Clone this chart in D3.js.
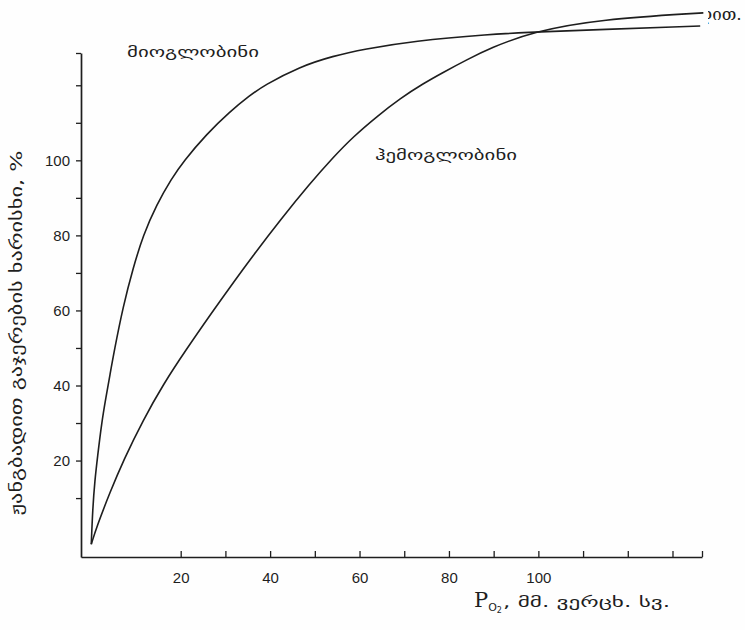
<!DOCTYPE html>
<html><head><meta charset="utf-8">
<script src="https://cdn.jsdelivr.net/npm/d3@7"></script>
<style>body{margin:0;background:#fff}svg{display:block}</style>
</head><body>
<svg id="c" width="745" height="630"></svg>
<script>
// ---- data ----
const myoPressure = [0, 0.3, 0.8, 1.4, 2.3, 3.3, 4.2, 5.1, 7.1, 9.4, 11.6, 14.6, 18.0, 20.6, 25.8, 31.0, 35.5, 38.5, 46.7, 54.1, 60.9, 72.0, 89.2, 98.8, 136.2];
const myoSaturation = [-2.3, 6.8, 14.8, 21.0, 29.9, 37.0, 43.0, 49.0, 61.0, 71.5, 80.0, 88.2, 95.2, 99.7, 107.0, 113.0, 117.3, 119.9, 125.0, 127.8, 129.6, 131.8, 133.6, 134.2, 135.8];
const hemoPressure = [0, 1.2, 4.2, 7.2, 11.6, 16.1, 21.0, 27.3, 31.8, 36.3, 42.2, 48.9, 54.1, 58.6, 63.9, 69.1, 74.3, 78.8, 84.0, 89.2, 98.8, 113.8, 136.9];
const hemoSaturation = [-2.3, 2.3, 11.6, 20.1, 30.8, 40.3, 49.2, 60.0, 67.5, 74.8, 84.0, 93.8, 100.8, 106.3, 111.7, 116.5, 120.5, 123.5, 126.8, 129.9, 134.3, 137.6, 139.3];
const xTicks = [20, 30, 40, 50, 60, 70, 80, 90, 100, 110, 120, 130];
const xTickLabels = [20, 40, 60, 80, 100];
const yTicks = [10, 20, 30, 40, 50, 60, 70, 80, 90, 100, 110, 120];
const yTickLabels = [20, 40, 60, 80, 100];
const seriesNames = ["მიოგლობინი", "ჰემოგლობინი"];
const yTitle = "ჟანგბადით გაჯერების ხარისხი, %";
const xTitleUnit = ", მმ. ვერცხ. სვ.";

const svg = d3.select("#c");
svg.append("rect").attr("width", 745).attr("height", 630).attr("fill", "#fefefe");

const xDomain = [-2.3, 136.6], yDomain = [-5.7, 128.6];
const x = d3.scaleLinear().domain(xDomain).range([81, 702]);
const y = d3.scaleLinear().domain(yDomain).range([557, 53]);
const ink = "#1e1e1e";

// axes
const xAxis = d3.axisBottom(x)
  .tickValues(xTicks.concat([xDomain[1]]))
  .tickSize(-6).tickSizeOuter(0).tickPadding(15)
  .tickFormat(d => xTickLabels.includes(d) ? d : "");
const gx = svg.append("g").attr("transform", `translate(0,${y(yDomain[0])})`).call(xAxis);

const yAxis = d3.axisLeft(y)
  .tickValues(yTicks.concat([yDomain[1]]))
  .tickSize(5).tickSizeOuter(0).tickPadding(6)
  .tickFormat(d => yTickLabels.includes(d) ? d : "");
const gy = svg.append("g").attr("transform", `translate(${x(xDomain[0])},0)`).call(yAxis);

[gx, gy].forEach(g => {
  g.select(".domain").attr("stroke", ink).attr("stroke-width", 1.7);
  g.selectAll(".tick line").attr("stroke", ink).attr("stroke-width", 1.3);
  g.selectAll(".tick text").attr("fill", ink)
    .style("font-family", "'Liberation Sans', Arial, sans-serif").style("font-size", "15px");
});

// curves
const line = d3.line().x(d => x(d[0])).y(d => y(d[1])).curve(d3.curveBasis);
const myo = myoPressure.map((p, i) => [p, myoSaturation[i]]);
const hemo = hemoPressure.map((p, i) => [p, hemoSaturation[i]]);
[myo, hemo].forEach(s => {
  svg.append("path").datum(s).attr("d", line)
    .attr("fill", "none").attr("stroke", ink).attr("stroke-width", 1.6);
});

// series labels
const geo = "'DejaVu Sans', 'Noto Sans', sans-serif";
svg.append("text").attr("x", 127).attr("y", 57).text(seriesNames[0])
  .attr("font-family", geo).attr("font-size", 15).attr("fill", ink)
  .attr("textLength", 132).attr("lengthAdjust", "spacingAndGlyphs");
svg.append("text").attr("x", 375).attr("y", 160).text(seriesNames[1])
  .attr("font-family", geo).attr("font-size", 15).attr("fill", ink)
  .attr("textLength", 142).attr("lengthAdjust", "spacingAndGlyphs");

// y title
svg.append("text")
  .attr("transform", "translate(22,333) rotate(-90)")
  .attr("text-anchor", "middle")
  .attr("font-family", geo).attr("font-size", 16).attr("fill", ink)
  .attr("textLength", 365).attr("lengthAdjust", "spacingAndGlyphs")
  .text(yTitle);

// x title
const xt = svg.append("text").attr("x", 474).attr("y", 607)
  .attr("font-family", geo).attr("fill", ink);
xt.append("tspan").text("P").attr("font-family", "'DejaVu Serif', serif").attr("font-size", 21);
xt.append("tspan").text("O").attr("font-size", 11).attr("dy", 4);
xt.append("tspan").text("2").attr("font-size", 8).attr("dy", 2);
svg.append("text").attr("x", 503).attr("y", 607).text(xTitleUnit)
  .attr("font-family", geo).attr("font-size", 15).attr("fill", ink)
  .attr("textLength", 167).attr("lengthAdjust", "spacingAndGlyphs");

// clipped caption fragment at top right
svg.append("clipPath").attr("id", "cp").append("rect")
  .attr("x", 708).attr("y", 0).attr("width", 40).attr("height", 40);
svg.append("text").attr("x", 698).attr("y", 20)
  .attr("clip-path", "url(#cp)")
  .attr("font-family", "'DejaVu Serif', serif").attr("font-size", 17).attr("fill", ink)
  .text("დით.");
</script>
</body></html>
